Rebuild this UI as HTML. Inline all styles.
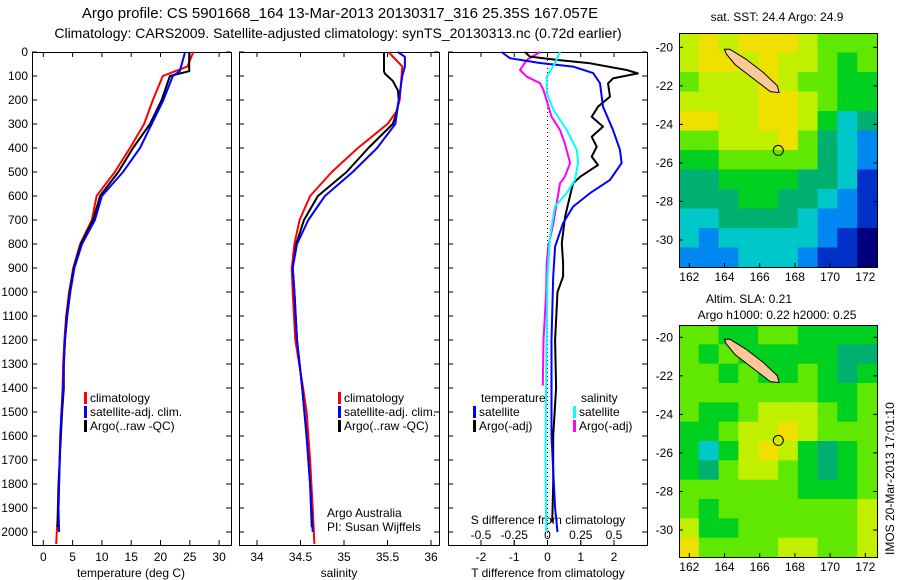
<!DOCTYPE html>
<html><head><meta charset="utf-8"><style>
body{margin:0;background:#fff}
svg{display:block;font-family:"Liberation Sans",sans-serif}
text{font-size:12px;fill:#000}
</style></head><body>
<svg id="fig" width="900" height="580" viewBox="0 0 900 580">
<text x="340" y="18" text-anchor="middle" style="font-size:15px">Argo profile: CS 5901668_164 13-Mar-2013 20130317_316 25.35S 167.057E</text>
<text x="338" y="38" text-anchor="middle" style="font-size:14px">Climatology: CARS2009. Satellite-adjusted climatology: synTS_20130313.nc (0.72d earlier)</text>
<g id="p1"></g>
<g id="p2"></g>
<g id="p3"></g>
<g id="m1"></g>
<g id="m2"></g>
<text transform="translate(894,555) rotate(-90)" style="font-size:12px">IMOS 20-Mar-2013 17:01:10</text>
</svg>
<script>
// ---- data ----
const tempDepth = [0,60,100,200,300,400,500,600,700,800,900,1000,1100,1200,1300,1400,1500,1600,1700,1800,1900,2000,2050];
const tempClim  = [25.6,24.6,20.4,18.7,17.2,14.8,12.2,9.1,8.3,6.3,5.1,4.4,3.9,3.6,3.4,3.3,3.1,2.9,2.8,2.7,2.6,2.3,2.2];
const tempSatDepth=[0,80,100,200,300,400,500,600,700,800,900,1000,1100,1200,1300,1400,1500,1600,1700,1800,1900,2000];
const tempSat   = [24.2,23.3,22.1,20.5,18.5,16.5,13.6,10.0,8.8,6.6,5.3,4.6,4.1,3.7,3.5,3.4,3.1,2.9,2.8,2.7,2.6,2.7];
const tempArgoDepth=[0,80,100,200,300,400,500,600,700,800,900,1000,1100,1200,1300,1400,1500,1600,1700,1800,1900,1980];
const tempArgo  = [24.9,24.9,21.6,20.2,18.2,15.3,12.8,9.7,8.5,6.4,5.2,4.5,4.0,3.7,3.5,3.5,3.2,3.0,2.8,2.6,2.5,2.4];

const salClimDepth=[0,60,200,250,300,400,500,600,700,800,900,1000,1200,1400,1500,1700,1900,2050];
const salClim = [35.51,35.67,35.64,35.60,35.50,35.16,34.86,34.61,34.49,34.43,34.40,34.41,34.44,34.53,34.57,34.61,34.64,34.66];
const salSatDepth=[0,20,60,100,200,300,400,500,600,700,800,900,1000,1200,1400,1600,1800,2000];
const salSat  = [35.62,35.70,35.70,35.67,35.63,35.59,35.38,35.10,34.78,34.59,34.46,34.41,34.43,34.46,34.52,34.57,34.61,34.64];
const salArgoDepth=[0,80,90,120,160,200,260,300,400,500,600,700,800,900,1000,1200,1400,1600,1800,1980];
const salArgo = [35.46,35.46,35.47,35.56,35.62,35.63,35.60,35.56,35.28,35.03,34.70,34.54,34.45,34.41,34.43,34.46,34.52,34.57,34.61,34.63];

const dTSatDepth=[0,26,46,61,88,130,228,325,408,463,533,588,644,713,811,936,1200,1600,1900,2000];
const dTSat   = [-1.38,-1.13,-0.23,0.77,1.37,1.58,1.67,1.97,2.18,2.23,1.88,1.28,0.77,0.47,0.23,0.17,0.12,0.12,0.23,0.3];
const dTArgoDepth=[0,19,33,47,75,89,110,131,186,228,270,311,353,395,436,471,520,547,603,686,797,880,936,1000,1200,1400,1600,1800,1960];
const dTArgo  = [-0.68,-0.53,0.28,1.28,2.38,2.72,1.97,1.82,1.88,1.52,1.33,1.67,1.33,1.48,1.33,1.52,0.98,0.77,0.67,0.53,0.43,0.47,0.47,0.3,0.23,0.26,0.17,0.17,0.14];
const dSSatDepth=[0,47,103,171,241,325,408,463,533,588,644,769,936,1300,1700,2000];
const dSSat   = [0.094,0.056,-0.006,-0.006,0.044,0.144,0.22,0.23,0.207,0.144,0.056,0.019,0,-0.01,-0.015,-0.01];
const dSArgoDepth=[0,33,75,103,130,158,270,325,380,463,520,547,630,713,811,880,1000,1200,1390];
const dSArgo  = [-0.056,-0.156,-0.207,-0.156,-0.056,-0.031,0.031,0.094,0.13,0.17,0.13,0.094,0.069,0.044,0.006,-0.006,-0.01,-0.03,-0.035];

const depthTicks=[0,100,200,300,400,500,600,700,800,900,1000,1100,1200,1300,1400,1500,1600,1700,1800,1900,2000];
const tempTicks=[0,5,10,15,20,25,30];
const salTicks=[34,34.5,35,35.5,36];
const dTTicks=[-2,-1,0,1,2];
const dSTicks=[-0.5,-0.25,0,0.25,0.5];
const lonTicks=[162,164,166,168,170,172];
const latTicks=[-20,-22,-24,-26,-28,-30];

// SST map coarse field (0=cold navy .. 9=warm orange), 12 rows x 10 cols, north to south
const sstGrid=[
[7,8,7,8,8,8,7,6,6,6],[7,8,8,7,8,7,7,6,5,6],[6,7,7,7,8,7,6,6,5,5],[7,7,7,7,8,8,7,6,5,5],
[8,8,7,7,8,8,7,5,3,4],[6,6,7,7,7,8,6,4,3,2],[5,5,6,6,6,6,6,4,3,2],[4,4,5,5,5,5,4,4,3,1],
[4,4,4,5,5,4,4,3,2,1],[3,3,4,4,4,4,3,2,2,1],[3,2,3,3,3,3,3,2,1,0],[2,2,2,3,3,3,2,1,1,0]];
const slaGrid=[
[6,6,5,5,6,6,5,5,5,5],[6,5,6,5,5,5,5,5,4,4],[6,6,5,6,5,5,6,5,4,5],[6,6,6,6,6,6,6,5,5,6],
[6,5,5,6,7,7,7,6,5,6],[5,5,6,7,7,8,7,6,6,6],[5,3,5,7,8,7,5,4,5,6],[5,4,6,7,7,6,5,4,5,6],
[6,6,6,6,6,6,5,5,5,6],[6,5,6,6,6,6,6,6,6,7],[7,5,5,6,6,6,6,6,6,7],[8,6,6,6,6,7,7,6,6,7]];
const argoLon=167.057, argoLat=-25.35;
const islandLon=[164.0,164.3,165.2,166.2,167.0,167.1,166.6,165.6,164.6,164.1];
const islandLat=[-20.1,-20.1,-20.6,-21.3,-22.0,-22.35,-22.3,-21.6,-20.9,-20.35];

// ---- helpers ----
const NS='http://www.w3.org/2000/svg';
function mk(parent,tag,attrs){const e=document.createElementNS(NS,tag);for(const k in attrs)e.setAttribute(k,attrs[k]);parent.appendChild(e);return e;}
function txt(parent,x,y,s,anchor){const t=mk(parent,'text',{x:x,y:y,'text-anchor':anchor||'start'});t.textContent=s;return t;}
const Y0=52,YPX=0.24;
const yD=d=>Y0+d*YPX;
function line(g,xs,ds,fx,color,name){
  const pts=xs.map((v,i)=>fx(v).toFixed(1)+','+yD(ds[i]).toFixed(1)).join(' ');
  const p=mk(g,'polyline',{points:pts,fill:'none',stroke:color,'stroke-width':2,'stroke-linejoin':'round'});
  
  
}
function frame(g,x0,x1,y0,y1){mk(g,'rect',{x:x0+.5,y:y0+.5,width:x1-x0,height:y1-y0,fill:'none',stroke:'#000','stroke-width':1});}
function legendItem(g,x,y,color,label){
  mk(g,'rect',{x:x,y:y-10,width:3,height:12,fill:color});
  const t=txt(g,x+6,y,label);
  
  
}
const YB=545;

// ---- panel 1 ----
const p1=document.getElementById('p1');
const xT=t=>43.3+t*5.86;
frame(p1,32,231,Y0,YB);
depthTicks.forEach(d=>{mk(p1,'line',{x1:32,x2:37,y1:yD(d),y2:yD(d),stroke:'#000'});mk(p1,'line',{x1:226,x2:231,y1:yD(d),y2:yD(d),stroke:'#000'});txt(p1,28,yD(d)+4,String(d),'end');});
tempTicks.forEach(t=>{mk(p1,'line',{x1:xT(t),x2:xT(t),y1:YB,y2:YB-5,stroke:'#000'});mk(p1,'line',{x1:xT(t),x2:xT(t),y1:Y0,y2:Y0+5,stroke:'#000'});txt(p1,xT(t),561,String(t),'middle');});
txt(p1,131,577,'temperature (deg C)','middle');
line(p1,tempClim,tempDepth,xT,'#f00','temp-climatology-line');
line(p1,tempArgo,tempArgoDepth,xT,'#000','temp-argo-line');
line(p1,tempSat,tempSatDepth,xT,'#00f','temp-satellite-line');
legendItem(p1,84,402,'#f00','climatology');
legendItem(p1,84,416,'#00f','satellite-adj. clim.');
legendItem(p1,84,430,'#000','Argo(..raw -QC)');

// ---- panel 2 ----
const p2=document.getElementById('p2');
const xS=s=>257+(s-34)*87;
frame(p2,239,439,Y0,YB);
depthTicks.forEach(d=>{mk(p2,'line',{x1:239,x2:244,y1:yD(d),y2:yD(d),stroke:'#000'});mk(p2,'line',{x1:434,x2:439,y1:yD(d),y2:yD(d),stroke:'#000'});});
salTicks.forEach(s=>{mk(p2,'line',{x1:xS(s),x2:xS(s),y1:YB,y2:YB-5,stroke:'#000'});mk(p2,'line',{x1:xS(s),x2:xS(s),y1:Y0,y2:Y0+5,stroke:'#000'});txt(p2,xS(s),561,String(s),'middle');});
txt(p2,339,577,'salinity','middle');
line(p2,salClim,salClimDepth,xS,'#f00','sal-climatology-line');
line(p2,salArgo,salArgoDepth,xS,'#000','sal-argo-line');
line(p2,salSat,salSatDepth,xS,'#00f','sal-satellite-line');
legendItem(p2,338,402,'#f00','climatology');
legendItem(p2,338,416,'#00f','satellite-adj. clim.');
legendItem(p2,338,430,'#000','Argo(..raw -QC)');
txt(p2,327,517,'Argo Australia');
txt(p2,327,531,'PI: Susan Wijffels');

// ---- panel 3 ----
const p3=document.getElementById('p3');
const xdT=t=>547.5+t*33.25, xdS=s=>547.5+s*133;
frame(p3,448,647,Y0,YB);
mk(p3,'line',{x1:xdT(0),x2:xdT(0),y1:Y0,y2:YB,stroke:'#000','stroke-dasharray':'1,3'});
depthTicks.forEach(d=>{mk(p3,'line',{x1:448,x2:453,y1:yD(d),y2:yD(d),stroke:'#000'});mk(p3,'line',{x1:642,x2:647,y1:yD(d),y2:yD(d),stroke:'#000'});});
dTTicks.forEach(t=>{mk(p3,'line',{x1:xdT(t),x2:xdT(t),y1:YB,y2:YB-5,stroke:'#000'});mk(p3,'line',{x1:xdT(t),x2:xdT(t),y1:Y0,y2:Y0+5,stroke:'#000'});txt(p3,xdT(t),561,String(t),'middle');});
dSTicks.forEach(s=>{mk(p3,'line',{x1:xdS(s),x2:xdS(s),y1:YB,y2:YB-5,stroke:'#000'});txt(p3,xdS(s),539,String(s),'middle');});
txt(p3,548,524,'S difference from climatology','middle');
txt(p3,548,577,'T difference from climatology','middle');
line(p3,dSArgo,dSArgoDepth,xdS,'#f0f','sdiff-argo-line');
line(p3,dTArgo,dTArgoDepth,xdT,'#000','tdiff-argo-line');
line(p3,dTSat,dTSatDepth,xdT,'#00f','tdiff-satellite-line');
line(p3,dSSat,dSSatDepth,xdS,'#0ff','sdiff-satellite-line');
txt(p3,481,402,'temperature');
legendItem(p3,473,416,'#00f','satellite');
legendItem(p3,473,430,'#000','Argo(-adj)');
txt(p3,581,402,'salinity');
legendItem(p3,573,416,'#0ff','satellite');
legendItem(p3,573,430,'#f0f','Argo(-adj)');

// ---- maps ----
const cmap=['#00007f','#0030c8','#0088f0','#00c8c8','#00b070','#00d020','#60e800','#c0f000','#f0e000','#f8a000'];
function drawMap(g,grid,y0,y1,latPx20,latPx30,titleLines){
  const x0=679,x1=877,lonX=l=>689.3+(l-162)*17.6,latY=l=>latPx20+(-20-l)*(latPx30-latPx20)/10;
  const rows=grid.length,cols=grid[0].length,cw=(x1-x0)/cols,ch=(y1-y0)/rows;
  grid.forEach((row,r)=>row.forEach((v,c)=>{
    const e=mk(g,'rect',{x:x0+c*cw,y:y0+r*ch,width:cw+0.6,height:ch+0.6,fill:cmap[v]});
    
    
  }));
  const isl=mk(g,'polygon',{points:islandLon.map((l,i)=>lonX(l).toFixed(1)+','+latY(islandLat[i]).toFixed(1)).join(' '),fill:'#fcc898',stroke:'#000','stroke-width':1});
  
  
  const c=mk(g,'circle',{cx:lonX(argoLon),cy:latY(argoLat),r:5,fill:'none',stroke:'#000','stroke-width':1});
  
  
  frame(g,x0,x1,y0,y1);
  lonTicks.forEach(l=>{mk(g,'line',{x1:lonX(l),x2:lonX(l),y1:y1,y2:y1-4,stroke:'#000'});txt(g,lonX(l),y1+14,String(l),'middle');});
  latTicks.forEach(l=>{mk(g,'line',{x1:x0,x2:x0+4,y1:latY(l),y2:latY(l),stroke:'#000'});mk(g,'line',{x1:x1,x2:x1-4,y1:latY(l),y2:latY(l),stroke:'#000'});txt(g,673,latY(l)+4,String(l),'end');});
  titleLines.forEach(t=>txt(g,t[0],t[1],t[2],'middle'));
}
drawMap(document.getElementById('m1'),sstGrid,33,267,47.3,240,[[777,21,'sat. SST: 24.4 Argo: 24.9']]);
drawMap(document.getElementById('m2'),slaGrid,325,557,337.3,530,[[749,303,'Altim. SLA: 0.21'],[777,319,'Argo h1000: 0.22 h2000: 0.25']]);
</script>
</body></html>
